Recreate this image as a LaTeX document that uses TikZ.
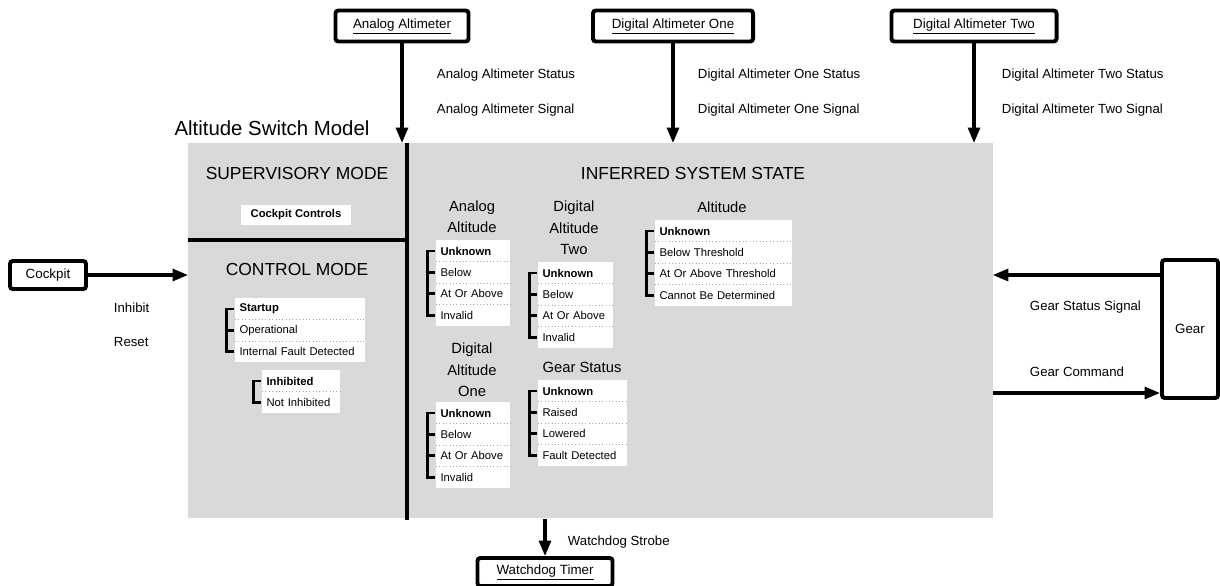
\documentclass[tikz,border=0pt]{standalone}
\usepackage{fontspec}
\setmainfont{Liberation Sans}
\usetikzlibrary{arrows.meta}

% one list of states: name, left x, top y, text width, items (first in bold)
\newcommand{\statelist}[5]{%
	\foreach \txt [count=\i, evaluate=\i as \j using int(\i-1)] in {#5} {
		\node[stateitem, text width=#4, anchor=north west] (#1-\i) at ({#2}, {#3+(\i-1)*21.4}) {\ifnum\i=1 \bfseries\fi\txt};
		\draw[bracket] ([xshift=-0.22cm]#1-\i.west) -- ([xshift=-0.06cm]#1-\i.west);
		\ifnum\i>1
			\draw[rowsep] (#1-\i.north west) -- (#1-\i.north east);
			\draw[bracket] ([xshift=-0.22cm]#1-\j.west) -- ([xshift=-0.22cm]#1-\i.west);
		\fi
	}%
}

\begin{document}
\begin{tikzpicture}[x=0.025cm, y=-0.025cm,
	model/.style={shape=rectangle, fill=black!15, inner sep=0pt},
	unitbox/.style={shape=rectangle, draw, fill=white, line width=2.8pt, rounded corners=2pt, inner sep=0pt, font={\fontsize{9.5}{11}\selectfont}},
	stateitem/.style={shape=rectangle, fill=white, inner xsep=3pt, inner ysep=0pt, minimum height=0.535cm, align=left, font={\fontsize{8}{9.5}\selectfont}},
	rowsep/.style={black!35, line width=0.4pt, dotted},
	bracket/.style={line width=2pt, line cap=rect},
	divider/.style={line width=2.2pt},
	flow/.style={line width=2.2pt, -{Triangle[length=11pt, width=8.5pt]}},
	signal/.style={anchor=west, font={\fontsize{9.4}{11}\selectfont}},
	modetitle/.style={font={\fontsize{12.4}{14}\selectfont}},
	statehead/.style={align=center, font={\fontsize{10.5}{15.2}\selectfont}}]
	\useasboundingbox (0,0) rectangle (1220,585);

	% model area
	\node[model, anchor=north west, minimum width=20.1cm, minimum height=9.375cm] (model) at (188,143) {};
	\node[font={\fontsize{14.5}{16}\selectfont}] (title) at (272,128) {Altitude Switch Model};
	\draw[divider] (407,143) -- (407,520);
	\draw[divider] (188,240) -- (407,240);

	% supervisory and control modes
	\node[modetitle] (supmode) at (297,173) {SUPERVISORY MODE};
	\node[stateitem, minimum width=2.725cm, minimum height=0.5cm, align=center, font={\fontsize{8}{9.5}\selectfont\bfseries}] (controls) at (296,215) {Cockpit Controls};
	\node[modetitle] (ctrlmode) at (297,269) {CONTROL MODE};
	\statelist{ctrl}{235}{298}{3.04cm}{Startup,Operational,Internal Fault Detected}
	\statelist{inh}{262}{370}{1.74cm}{Inhibited,Not Inhibited}

	% inferred system state
	\node[modetitle] (inferred) at (693,173) {INFERRED SYSTEM STATE};
	\node[statehead] (hd-analog) at (472,217) {Analog\\Altitude};
	\statelist{analog}{436}{240}{1.64cm}{Unknown,Below,At Or Above,Invalid}
	\node[statehead] (hd-digtwo) at (574,228) {Digital\\Altitude\\Two};
	\statelist{digtwo}{538}{262}{1.66cm}{Unknown,Below,At Or Above,Invalid}
	\node[statehead] (hd-alt) at (722,207) {Altitude};
	\statelist{alt}{655}{220}{3.2cm}{Unknown,Below Threshold,At Or Above Threshold,Cannot Be Determined}
	\node[statehead] (hd-digone) at (472,370) {Digital\\Altitude\\One};
	\statelist{digone}{436}{402}{1.64cm}{Unknown,Below,At Or Above,Invalid}
	\node[statehead] (hd-gear) at (582,367) {Gear Status};
	\statelist{gearst}{538}{380}{2.0cm}{Unknown,Raised,Lowered,Fault Detected}

	% outside units
	\node[unitbox, minimum width=3.325cm, minimum height=0.775cm] (analogalt) at (402,26) {\underline{Analog Altimeter}};
	\node[unitbox, minimum width=4.0cm, minimum height=0.775cm] (digaltone) at (673,26) {\underline{Digital Altimeter One}};
	\node[unitbox, minimum width=4.125cm, minimum height=0.775cm] (digalttwo) at (974,26) {\underline{Digital Altimeter Two}};
	\node[unitbox, minimum width=1.9cm, minimum height=0.7cm] (cockpit) at (48,275) {Cockpit};
	\node[unitbox, minimum width=1.4cm, minimum height=3.45cm] (gear) at (1190,329) {Gear};
	\node[unitbox, minimum width=3.375cm, minimum height=0.7cm] (watchdog) at (545,572) {\underline{Watchdog Timer}};

	% inputs and outputs
	\draw[flow] (analogalt.south) -- (analogalt.south |- model.north);
	\draw[flow] (digaltone.south) -- (digaltone.south |- model.north);
	\draw[flow] (digalttwo.south) -- (digalttwo.south |- model.north);
	\draw[flow] (cockpit.east) -- (cockpit.east -| model.west);
	\coordinate (gearin) at (1100,275);
	\coordinate (gearout) at (1100,393);
	\draw[flow] (gear.west |- gearin) -- (model.east |- gearin);
	\draw[flow] (model.east |- gearout) -- (gear.west |- gearout);
	\draw[flow] (watchdog.north |- model.south) -- (watchdog.north);

	% signal labels
	\node[signal] (aa-status) at (432,75) {Analog Altimeter Status};
	\node[signal] (aa-signal) at (432,110) {Analog Altimeter Signal};
	\node[signal] (d1-status) at (693,75) {Digital Altimeter One Status};
	\node[signal] (d1-signal) at (693,110) {Digital Altimeter One Signal};
	\node[signal] (d2-status) at (997,75) {Digital Altimeter Two Status};
	\node[signal] (d2-signal) at (997,110) {Digital Altimeter Two Signal};
	\node[signal] (inhibit) at (109,308) {Inhibit};
	\node[signal] (reset) at (109,342) {Reset};
	\node[signal] (gearsig) at (1025,307) {Gear Status Signal};
	\node[signal] (gearcmd) at (1025,372) {Gear Command};
	\node[signal] (strobe) at (563,542) {Watchdog Strobe};
\end{tikzpicture}
\end{document}
